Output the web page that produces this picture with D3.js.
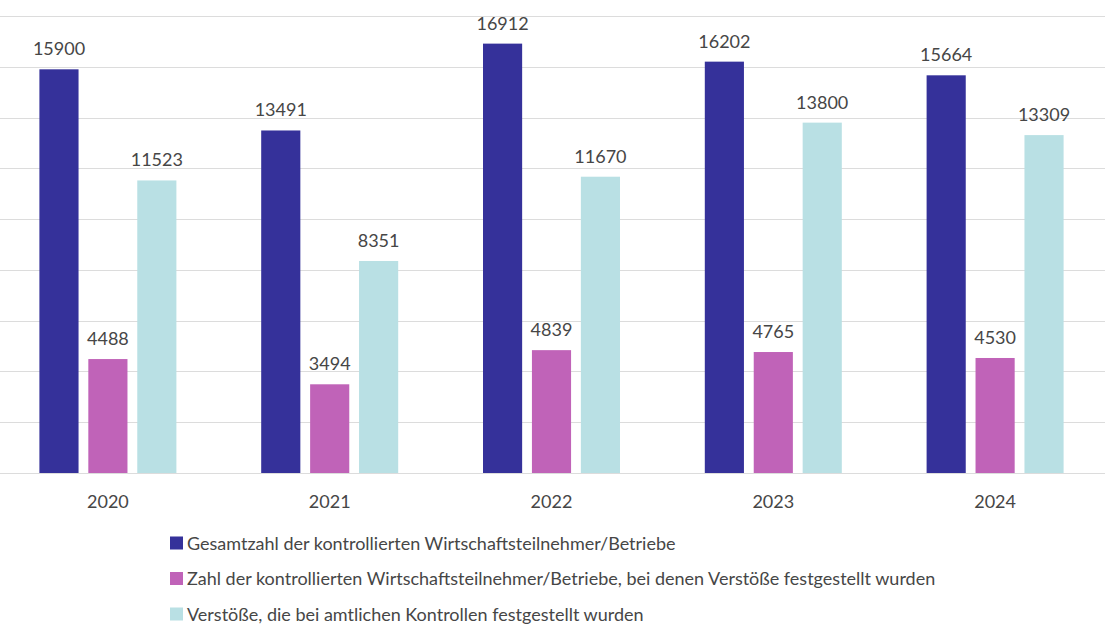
<!DOCTYPE html>
<html>
<head>
<meta charset="utf-8">
<script src="https://cdn.jsdelivr.net/npm/d3@7"></script>
<style>
  body { margin: 0; background: #fff; }
  text { font-family: Lato, "Open Sans", sans-serif; fill: #464646; }
</style>
</head>
<body>
<div id="plot"></div>
<script>
// data
var years = ["2020", "2021", "2022", "2023", "2024"];
var seriesNames = [
  "Gesamtzahl der kontrollierten Wirtschaftsteilnehmer/Betriebe",
  "Zahl der kontrollierten Wirtschaftsteilnehmer/Betriebe, bei denen Verstöße festgestellt wurden",
  "Verstöße, die bei amtlichen Kontrollen festgestellt wurden"
];
var gesamt = [15900, 13491, 16912, 16202, 15664];
var mitVerstoss = [4488, 3494, 4839, 4765, 4530];
var verstoesse = [11523, 8351, 11670, 13800, 13309];
var colors = ["#35319a", "#c063b8", "#b9e0e4"];

var series = [gesamt, mitVerstoss, verstoesse];

const width = 1119, height = 644;
const plotTop = 16, plotBottom = 473, plotLeft = 0, plotRight = 1105;

var svg = d3.select("div#plot")
  .append("svg")
    .attr("width", width)
    .attr("height", height);

var y = d3.scaleLinear()
  .domain([0, 18000])
  .range([plotBottom, plotTop]);

var x = d3.scaleBand()
  .domain(years)
  .range([-3, 1106]);

var x1 = d3.scaleBand()
  .domain([0, 1, 2])
  .range([0, 137])
  .paddingInner(0.2);

// gridlines
svg.append("g")
  .selectAll("line")
  .data(y.ticks(9))
  .enter()
  .append("line")
    .attr("x1", plotLeft)
    .attr("x2", plotRight)
    .attr("y1", d => Math.round(y(d)) + 0.5)
    .attr("y2", d => Math.round(y(d)) + 0.5)
    .attr("stroke", "#dcdcdc")
    .attr("stroke-width", 1);

// bars
var groups = svg.append("g")
  .selectAll("g")
  .data(years)
  .enter()
  .append("g")
    .attr("transform", d => "translate(" + (x(d) + x.bandwidth() / 2 - 68.5) + ",0)");

groups.selectAll("rect")
  .data((d, i) => series.map((s, k) => ({k: k, v: s[i]})))
  .enter()
  .append("rect")
    .attr("x", d => x1(d.k))
    .attr("y", d => y(d.v))
    .attr("width", x1.bandwidth())
    .attr("height", d => plotBottom - y(d.v))
    .attr("fill", d => colors[d.k]);

groups.selectAll("text.val")
  .data((d, i) => series.map((s, k) => ({k: k, v: s[i]})))
  .enter()
  .append("text")
    .attr("class", "val")
    .attr("x", d => x1(d.k) + x1.bandwidth() / 2)
    .attr("y", d => y(d.v) - 14)
    .attr("text-anchor", "middle")
    .attr("font-size", 18)
    .text(d => d.v);

// year labels
svg.append("g")
  .selectAll("text")
  .data(years)
  .enter()
  .append("text")
    .attr("x", d => x(d) + x.bandwidth() / 2)
    .attr("y", 508)
    .attr("text-anchor", "middle")
    .attr("font-size", 18)
    .text(d => d);

// legend
var legend = svg.append("g")
  .selectAll("g")
  .data(seriesNames)
  .enter()
  .append("g")
    .attr("transform", (d, i) => "translate(170," + (543 + i * 35.5) + ")");

legend.append("rect")
  .attr("x", 0)
  .attr("y", -6.5)
  .attr("width", 13)
  .attr("height", 13)
  .attr("fill", (d, i) => colors[i]);

legend.append("text")
  .attr("x", 17)
  .attr("y", 6.5)
  .attr("font-size", 18)
  .text(d => d);
</script>
</body>
</html>
